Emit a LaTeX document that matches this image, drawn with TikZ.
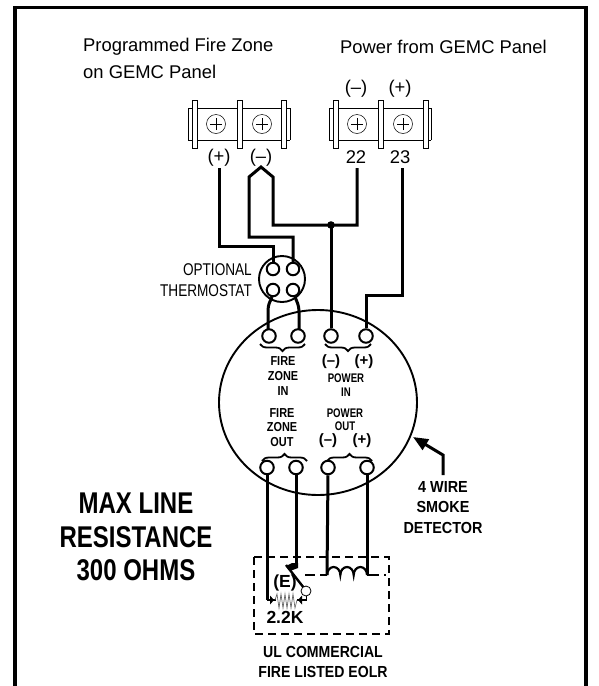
\documentclass[tikz,border=0pt]{standalone}
\usepackage{fontspec}
\setmainfont{Liberation Sans}
\usetikzlibrary{arrows.meta,decorations.pathreplacing,shapes.geometric}
\newcommand{\cnd}[2]{\scalebox{#1}[1]{#2}}
\tikzset{x=1pt,y=-1pt,
 wire/.style={line width=3pt,line cap=butt,line join=miter},
 thin line/.style={line width=0.8pt},
 lbl/.style={font=\fontsize{18.4}{20}\selectfont,inner sep=0,align=left},
 sign/.style={font=\bfseries\fontsize{15}{15}\selectfont,inner sep=0},
 term/.style={circle,draw,line width=2pt,fill=white,minimum size=13.5pt,inner sep=0},
 tstat/.style={circle,draw,line width=2pt,fill=white,minimum size=12.5pt,inner sep=0},
 screw/.style={circle,draw,line width=0.5pt,minimum size=19pt,inner sep=0,path picture={\draw[line width=.6pt](path picture bounding box.center)+(-6pt,0)--+(6pt,0) (path picture bounding box.center)+(0,-6pt)--+(0,6pt);}},
 brace/.style={line width=1.8pt,decorate,decoration={brace,amplitude=7pt}},
 post/.style={draw,line width=.8pt,fill=white}
}
\begin{document}
\begin{tikzpicture}
\useasboundingbox (0,0) rectangle (598,686);
\draw[line width=3.2pt] (15,686)--(15,7.5)--(586,7.5)--(586,686);
\node[lbl,anchor=west] (h1) at (83,47) {Programmed Fire Zone};
\node[lbl,anchor=west] (h2) at (83,72) {on GEMC Panel};
\node[lbl,anchor=west] (h3) at (340,47) {Power from GEMC Panel};
% terminal blocks
\foreach \bx in {188,329}{
 \draw[thin line] (\bx,108)--(\bx,140) (\bx+102,108)--(\bx+102,140);
 \draw[thin line] (\bx,108)--(\bx+102,108) (\bx,140)--(\bx+102,140);
}
\foreach \x in {194.5,239.5,284,336,380.5,425.5}{\draw[post] (\x-2.5,100) rectangle ++(5,48);}
\node[screw] (s1) at (216,124) {};
\node[screw] (s2) at (262,124) {};
\node[screw] (s3) at (357,124) {};
\node[screw] (s4) at (403,124) {};
\node[lbl] (m22) at (356,89) {(–)};
\node[lbl] (p23) at (400,89) {(+)};
\node[lbl] (pz) at (219,158) {(+)};
\node[lbl] (nz) at (261,158) {(–)};
\node[lbl] (n22) at (356,157) {22};
\node[lbl] (n23) at (400,157) {23};
% detector
\node[draw,ellipse,line width=1.9pt,minimum width=198pt,minimum height=185pt,inner sep=0] (det) at (318,402.5) {};
% thermostat
\node[circle,draw,line width=1.9pt,minimum size=46pt,inner sep=0] (ts) at (282,279) {};
\coordinate (j) at (331,225);
\coordinate (w1) at (219,168);
\coordinate (w22) at (357,168);
\coordinate (w23) at (402,168);
\node[tstat] (t1) at (273,269) {};
\node[tstat] (t2) at (293,269) {};
\node[tstat] (t3) at (273,290) {};
\node[tstat] (t4) at (293,290) {};
\node[term] (a1) at (269,336) {};
\node[term] (a2) at (298,336) {};
\node[term] (a3) at (331,336) {};
\node[term] (a4) at (366,336) {};
\node[term] (b1) at (267,467.5) {};
\node[term] (b2) at (296,467.5) {};
\node[term] (b3) at (328,467.5) {};
\node[term] (b4) at (367,467.5) {};
% wires
\draw[wire] (w1)--(219,246)-|(t1.north);
\draw[wire] (t2.north)|-(249,237)--(249,177)--(261,167)--(273,177)--(273,225)--(357,225)--(w22);
\draw[wire] (j)--(a3.north);
\fill (j) circle (3.8pt);
\draw[wire] (w23)--(402,295)-|(a4.north);
\draw[wire] (272,297) .. controls (270,302) and (268,304) .. (268,311)--(268,329);
\draw[wire] (295,297) .. controls (297,302) and (299,305) .. (299,312)--(299,329);
\coordinate (c1) at (327,575);
\coordinate (c2) at (367,575);
\draw[wire] (b1.south)--(267,600);
\draw[wire] (b2.south)--(296,565);
\draw[wire] (b3.south)--(c1);
\draw[wire] (b4.south)--(c2);
\fill (286,566) -- (292,563)--(298,563)--(298,568)--(290,571)--cycle;
% EOLR
\draw[line width=2.8pt,dash pattern=on 8pt off 5pt] (254,557) rectangle (389,634);
\draw[line width=2.4pt] (286,565)--(304,588);
\node[circle,draw,line width=.8pt,fill=white,minimum size=10pt,inner sep=0] (cc) at (306,591) {};
\draw[line width=2.4pt,dash pattern=on 10pt off 5pt] (305,575)--(c1);
\draw[line width=2.4pt,dash pattern=on 12pt off 5pt] (c2)--(386,575);
\draw[line width=2.2pt] (c1) arc (180:360:6.67 and 8) arc (180:360:6.67 and 8) arc (180:360:6.67 and 8);
\draw[line width=1.6pt] (267,600)--(276,600) (297,600)--(306,600);
\draw[line width=.8pt] (306,596)--(306,601);
\draw[line width=.7pt,black!60] (275,600)--(277,594)--(279,608)--(281,594)--(283,608)--(285,594)--(287,608)--(289,594)--(291,608)--(293,594)--(295,608)--(297,600);
\fill (270,595.5)--(274,600)--(270,604.5)--cycle;
\fill (302,595.5)--(298,600)--(302,604.5)--cycle;
\node[inner sep=0,font=\bfseries\fontsize{17.5}{17.5}\selectfont] (e) at (285,583) {(E)};
\node[inner sep=0,font=\bfseries\fontsize{17.5}{17.5}\selectfont] (k) at (285,617) {2.2K};
% braces
\draw[brace] (305,344)--(260,344);
\draw[brace] (371,344)--(325,344);
\draw[brace] (262,461)--(307,461);
\draw[brace] (327,461)--(372,461);
% labels
\node[inner sep=0,align=center,font=\bfseries\fontsize{13}{15}\selectfont] (fzi) at (283,376) {\cnd{.84}{FIRE}\\\cnd{.84}{ZONE}\\\cnd{.84}{IN}};
\node[sign] (mi) at (331,362) {(–)};
\node[sign] (pi) at (364,362) {(+)};
\node[inner sep=0,align=center,font=\bfseries\fontsize{12.5}{14}\selectfont] (pin) at (346,385) {\cnd{.77}{POWER}\\\cnd{.77}{IN}};
\node[inner sep=0,align=center,font=\bfseries\fontsize{13}{14.5}\selectfont] (fzo) at (282,427.5) {\cnd{.84}{FIRE}\\\cnd{.84}{ZONE}\\\cnd{.84}{OUT}};
\node[inner sep=0,align=center,font=\bfseries\fontsize{12.5}{13.5}\selectfont] (pout) at (345,419.5) {\cnd{.77}{POWER}\\\cnd{.77}{OUT}};
\node[sign] (mo) at (328,441) {(–)};
\node[sign] (po) at (362,441) {(+)};
\node[inner sep=0,align=right,anchor=east,font=\fontsize{17}{21}\selectfont] (opt) at (252,280.5) {\cnd{.8}{OPTIONAL}\\\cnd{.8}{THERMOSTAT}};
\node[inner sep=0,align=center,font=\bfseries\fontsize{30}{33.5}\selectfont] (mlr) at (136,537) {\cnd{.8}{MAX LINE}\\\cnd{.8}{RESISTANCE}\\\cnd{.8}{300 OHMS}};
\node[inner sep=0,align=center,font=\bfseries\fontsize{16}{20.5}\selectfont] (sd) at (443,507.5) {\cnd{.9}{4 WIRE}\\\cnd{.9}{SMOKE}\\\cnd{.9}{DETECTOR}};
\node[inner sep=0,align=center,font=\bfseries\fontsize{16}{20}\selectfont] (ul) at (323,662) {\cnd{.88}{UL COMMERCIAL}\\\cnd{.88}{FIRE LISTED EOLR}};
\coordinate (ar) at (413,437);
\coordinate (ar0) at (443,475);
\draw[wire,-{Triangle[length=15pt,width=12pt]}] (ar0)--(443,455)--(ar);
\end{tikzpicture}
\end{document}
